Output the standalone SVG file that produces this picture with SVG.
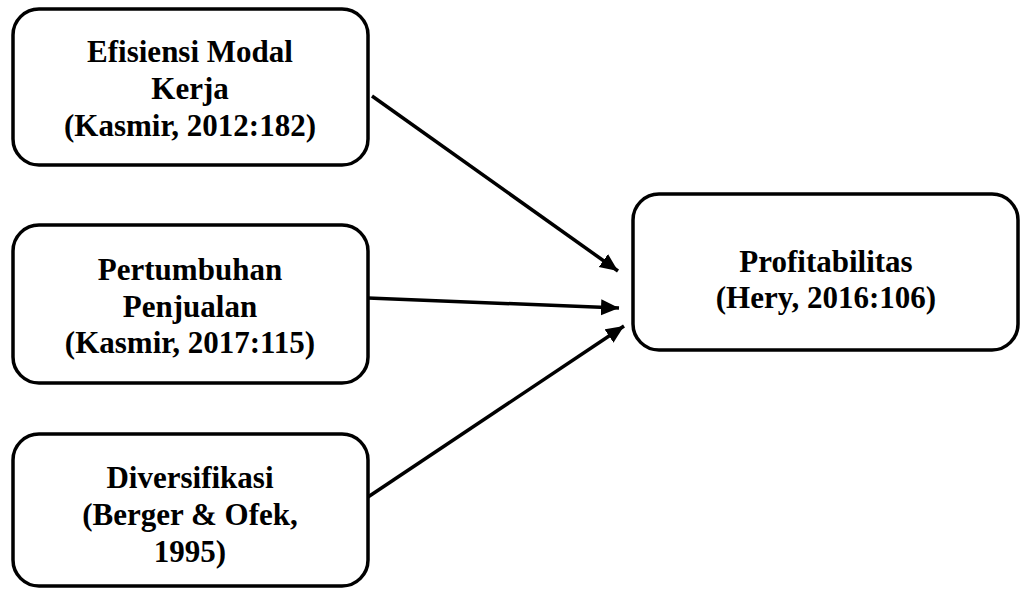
<svg xmlns="http://www.w3.org/2000/svg" width="1021" height="589" viewBox="0 0 1021 589">
<style>
.box{fill:#fff;stroke:#000;stroke-width:3.5}
.t{font-family:'Liberation Serif','Times New Roman',serif;font-weight:bold;font-size:31px;text-anchor:middle;fill:#000}
.c{stroke:#000;stroke-width:3.5;fill:none}
</style>
<defs>
<marker id="ah" markerUnits="userSpaceOnUse" markerWidth="20" markerHeight="18" refX="18" refY="8" orient="auto">
<path d="M0,0 L18,8 L0,16 Z" fill="#000"/>
</marker>
</defs>
<rect width="1021" height="589" fill="#fff"/>
<g id="connectors">
<line class="c" x1="372" y1="96" x2="618" y2="271" marker-end="url(#ah)"/>
<line class="c" x1="368" y1="298" x2="619" y2="308" marker-end="url(#ah)"/>
<line class="c" x1="368" y1="497" x2="624" y2="326" marker-end="url(#ah)"/>
</g>
<g id="n1">
<rect class="box" x="13" y="9" width="355" height="156" rx="26"/>
<text class="t" x="190" y="62">Efisiensi Modal</text>
<text class="t" x="190" y="99">Kerja</text>
<text class="t" x="190" y="136">(Kasmir, 2012:182)</text>
</g>
<g id="n2">
<rect class="box" x="13" y="225" width="355" height="158" rx="26"/>
<text class="t" x="190" y="280">Pertumbuhan</text>
<text class="t" x="190" y="317">Penjualan</text>
<text class="t" x="190" y="353">(Kasmir, 2017:115)</text>
</g>
<g id="n3">
<rect class="box" x="13" y="434" width="355" height="152" rx="26"/>
<text class="t" x="190" y="488">Diversifikasi</text>
<text class="t" x="190" y="525">(Berger &amp; Ofek,</text>
<text class="t" x="190" y="562">1995)</text>
</g>
<g id="n4">
<rect class="box" x="633" y="194" width="385" height="156" rx="26"/>
<text class="t" x="826" y="272">Profitabilitas</text>
<text class="t" x="826" y="308">(Hery, 2016:106)</text>
</g>
</svg>
